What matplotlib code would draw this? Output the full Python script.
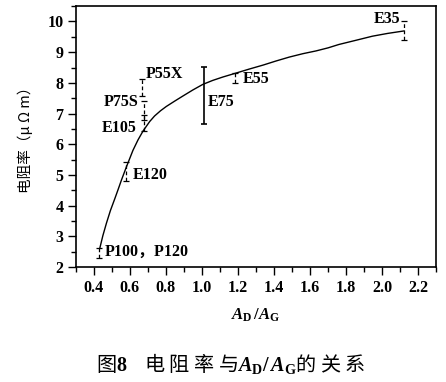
import matplotlib
matplotlib.use("Agg")
import matplotlib.pyplot as plt
from matplotlib.ticker import MultipleLocator

plt.rcParams['font.family'] = ['Liberation Serif', 'Noto Sans CJK SC', 'DejaVu Sans']
plt.rcParams['mathtext.fontset'] = 'custom'
plt.rcParams['mathtext.it'] = 'Liberation Serif:italic:bold'
plt.rcParams['mathtext.rm'] = 'Liberation Serif:bold'
plt.rcParams['mathtext.bf'] = 'Liberation Serif:bold'

# fitted curve
curve_x = [0.433, 0.45, 0.47, 0.492, 0.516, 0.535, 0.553, 0.58, 0.617, 0.645,
           0.673, 0.71, 0.737, 0.77, 0.802, 0.85, 0.894, 0.95, 1.005, 1.06,
           1.116, 1.19, 1.263, 1.34, 1.41, 1.485, 1.56, 1.633, 1.70, 1.76,
           1.85, 1.946, 2.03, 2.12]
curve_y = [2.61, 3.02, 3.43, 3.84, 4.22, 4.53, 4.83, 5.25, 5.80, 6.14,
           6.43, 6.74, 6.92, 7.09, 7.23, 7.41, 7.57, 7.77, 7.95, 8.08,
           8.19, 8.32, 8.45, 8.58, 8.71, 8.84, 8.95, 9.04, 9.14, 9.25,
           9.38, 9.52, 9.61, 9.69]

# error bars: name, x, low, high
bar_names = ['E35', 'E55', 'E75', 'P55X', 'P75S', 'E105', 'E120', 'P100，P120']
bar_x = [2.12, 1.186, 1.01, 0.667, 0.676, 0.676, 0.58, 0.429]
bar_lo = [9.40, 8.00, 6.66, 7.57, 6.80, 6.42, 4.79, 2.28]
bar_hi = [10.02, 8.31, 8.51, 8.11, 7.40, 6.95, 5.42, 2.61]

fig = plt.figure(figsize=(4.46, 3.82), dpi=100)
ax = fig.add_axes([0.170, 0.301, 0.808, 0.683])

ax.plot(curve_x, curve_y, color='black', lw=1.0)

for name, x, lo, hi in zip(bar_names, bar_x, bar_lo, bar_hi):
    mid = (lo + hi) / 2
    ls = '-' if name == 'E75' else (0, (3, 2))
    lw = 1.2 if name == 'E75' else 0.9
    eb = ax.errorbar([x], [mid], yerr=[[mid - lo], [hi - mid]], fmt='none',
                     ecolor='black', elinewidth=lw, capsize=2.5, capthick=lw)
    eb[2][0].set_linestyle(ls)

txt = dict(fontsize=11.5, fontweight='bold', va='center')
ax.text(2.10, 10.08, 'E35', ha='right', **txt)
ax.text(1.225, 8.12, 'E55', ha='left', **txt)
ax.text(1.03, 7.38, 'E75', ha='left', **txt)
ax.text(0.69, 8.30, 'P55X', ha='left', **txt)
ax.text(0.645, 7.38, 'P75S', ha='right', **txt)
ax.text(0.636, 6.52, 'E105', ha='right', **txt)
ax.text(0.615, 5.0, 'E120', ha='left', **txt)
ax.text(0.46, 2.50, 'P100，P120', ha='left', **txt)

ax.set_xlim(0.3, 2.3)
ax.set_ylim(2, 10.5)
ax.xaxis.set_major_locator(MultipleLocator(0.2))
ax.xaxis.set_minor_locator(MultipleLocator(0.1))
ax.yaxis.set_major_locator(MultipleLocator(1))
ax.yaxis.set_minor_locator(MultipleLocator(0.5))
ax.set_xticks([0.4, 0.6, 0.8, 1.0, 1.2, 1.4, 1.6, 1.8, 2.0, 2.2])
ax.set_xticklabels(['0.4', '0.6', '0.8', '1.0', '1.2', '1.4', '1.6', '1.8', '2.0', '2.2'])
ax.tick_params(which='major', direction='out', length=6, width=1.0,
               labelsize=11.5, pad=3)
ax.tick_params(which='minor', direction='out', length=3.5, width=1.0)
for lab in ax.get_xticklabels() + ax.get_yticklabels():
    lab.set_fontweight('bold')
for s in ax.spines.values():
    s.set_linewidth(1.2)

ax.set_xlabel(r'$A_{\rm D}\,/A_{\rm G}$', fontsize=12, labelpad=8)
ax.set_ylabel('电阻率（μ Ω m）', fontsize=10.5, family=['Noto Sans CJK SC', 'DejaVu Sans'],
              labelpad=10)

fig.text(0.518, 0.048, r'图$\mathbf{8}$    电 阻 率 与$A_{\rm D}/\,A_{\rm G}$的 关 系',
         ha='center', va='center', fontsize=14.5,
         family=['Noto Sans CJK SC', 'DejaVu Sans'])

fig.savefig('out.png', dpi=100)
